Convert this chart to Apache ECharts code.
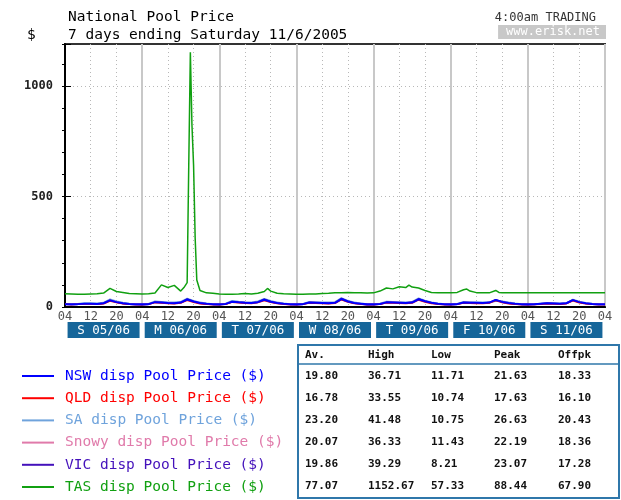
<!DOCTYPE html>
<html>
<head>
<meta charset="utf-8">
<script src="https://cdn.jsdelivr.net/npm/echarts@6/dist/echarts.min.js"></script>
<style>
html, body { margin: 0; padding: 0; background: #fff; }
#poolChart { width: 621px; height: 500px; }
</style>
</head>
<body>
<div id="poolChart"></div>
<script>
// day boxes under the axis, and the hour labels that repeat every day
var dayLabels = ['S 05/06', 'M 06/06', 'T 07/06', 'W 08/06', 'T 09/06', 'F 10/06', 'S 11/06'];
var hourLabels = ['04', '12', '20'];

var seriesNames = ['NSW disp Pool Price ($)', 'QLD disp Pool Price ($)', 'SA disp Pool Price ($)',
    'Snowy disp Pool Price ($)', 'VIC disp Pool Price ($)', 'TAS disp Pool Price ($)'];
var seriesColors = ['#0000ff', '#ff0000', '#6fa3dc', '#e07aaa', '#4411bb', '#11a011'];

// 2 hourly readings from Sun 04:00 to Sat 04:00
var nswPrice = [
    13, 12, 13, 15, 15, 14, 17, 30, 22, 17, 14, 13,
    12, 13, 22, 20, 18, 17, 20, 34, 25, 18, 15, 13,
    12, 14, 24, 21, 19, 18, 22, 33, 24, 18, 15, 13,
    12, 13, 20, 19, 18, 17, 19, 36, 25, 18, 15, 12,
    12, 14, 21, 20, 19, 18, 20, 35, 26, 19, 15, 13,
    12, 13, 20, 19, 19, 18, 20, 32, 23, 18, 15, 13,
    12, 12, 15, 17, 16, 15, 17, 31, 22, 17, 14, 13,
    12];
var qldPrice = [
    12, 11, 12, 14, 14, 13, 15, 27, 20, 15, 12, 11,
    11, 12, 20, 18, 16, 15, 18, 30, 21, 15, 13, 11,
    11, 12, 22, 19, 17, 16, 20, 29, 21, 16, 13, 11,
    11, 12, 18, 17, 16, 15, 17, 33, 22, 16, 13, 11,
    11, 12, 19, 18, 17, 16, 18, 32, 23, 16, 13, 11,
    11, 12, 18, 17, 16, 16, 18, 29, 20, 15, 13, 11,
    11, 11, 13, 15, 14, 13, 15, 28, 19, 15, 12, 11,
    11];
var saPrice = [
    14, 13, 15, 18, 18, 17, 20, 35, 26, 20, 16, 14,
    13, 15, 26, 24, 22, 21, 24, 39, 28, 21, 17, 14,
    13, 16, 28, 25, 23, 22, 26, 38, 28, 21, 17, 14,
    13, 15, 24, 23, 22, 21, 23, 41, 29, 21, 17, 14,
    13, 16, 25, 24, 23, 22, 24, 40, 30, 22, 17, 14,
    13, 15, 24, 23, 22, 21, 22, 26, 26, 21, 17, 14,
    13, 13, 16, 19, 18, 17, 19, 34, 25, 19, 16, 14,
    13];
var snowyPrice = [
    13, 12, 14, 15, 15, 14, 17, 31, 22, 17, 14, 13,
    12, 13, 22, 20, 19, 18, 20, 34, 25, 18, 15, 13,
    12, 14, 24, 21, 20, 19, 22, 33, 25, 18, 15, 13,
    12, 13, 21, 20, 19, 18, 20, 36, 26, 18, 15, 13,
    12, 14, 22, 21, 20, 19, 21, 35, 26, 19, 15, 13,
    12, 13, 21, 20, 19, 18, 20, 32, 24, 18, 15, 13,
    12, 12, 15, 17, 16, 15, 17, 31, 23, 17, 14, 13,
    12];
var vicPrice = [
    12, 10, 12, 15, 15, 14, 17, 31, 22, 16, 12, 10,
    9, 12, 22, 20, 18, 17, 20, 36, 25, 17, 13, 10,
    9, 13, 24, 21, 19, 18, 22, 35, 24, 17, 13, 10,
    9, 12, 20, 19, 18, 17, 19, 39, 26, 17, 13, 9,
    9, 13, 21, 20, 19, 18, 21, 37, 26, 18, 13, 10,
    9, 12, 20, 19, 19, 18, 20, 33, 23, 17, 13, 10,
    9, 11, 15, 17, 16, 15, 17, 32, 22, 16, 12, 10,
    10];
// TAS as [hours since Sun 04:00, price], finer around the Monday spike
var tasPrice = [
    [0, 60], [2, 59], [4, 58], [6, 58], [8, 59], [10, 60], [12, 63], [14, 84], [16, 70], [18, 66], [20, 61], [22, 60],
    [24, 59], [26, 60], [28, 63], [30, 100], [32, 88], [34, 98], [36, 72], [37, 88], [38, 110], [38.5, 641],
    [39, 1152.67], [39.5, 822], [40, 641], [40.5, 311], [41, 122], [42, 75], [44, 64], [46, 62],
    [48, 59], [50, 58], [52, 58], [54, 59], [56, 61], [58, 59], [60, 62], [62, 70], [63, 84], [64, 72], [66, 62], [68, 60], [70, 59],
    [72, 58], [74, 58], [76, 59], [78, 59], [80, 61], [82, 62], [84, 64], [86, 65], [88, 66], [90, 65], [92, 65], [94, 63],
    [96, 64], [98, 72], [100, 86], [102, 82], [104, 92], [106, 88], [107, 99], [108, 90], [110, 86], [112, 75], [114, 66], [116, 64], [118, 65],
    [120, 64], [122, 66], [124, 78], [125, 81], [126, 72], [128, 65], [130, 64], [132, 64], [134, 75], [135, 66], [136, 64], [138, 65], [140, 65], [142, 65],
    [144, 65], [146, 65], [148, 65], [150, 65], [152, 65], [154, 65], [156, 65], [158, 65], [160, 65], [162, 65], [164, 65], [166, 65],
    [168, 65]];

// stats table on the right
var statHeader = ['Av.', 'High', 'Low', 'Peak', 'Offpk'];
var statRows = [
    ['19.80', '36.71', '11.71', '21.63', '18.33'],
    ['16.78', '33.55', '10.74', '17.63', '16.10'],
    ['23.20', '41.48', '10.75', '26.63', '20.43'],
    ['20.07', '36.33', '11.43', '22.19', '18.36'],
    ['19.86', '39.29', '8.21', '23.07', '17.28'],
    ['77.07', '1152.67', '57.33', '88.44', '67.90']
];

var mono = 'DejaVu Sans Mono';
var poolChart = echarts.init(document.getElementById('poolChart'));

function toPairs(arr) {
    return arr.map(function (v, i) { return [i * 2, v]; });
}
var lowSeries = [nswPrice, qldPrice, saPrice, snowyPrice, vicPrice];
var zOrder = [6, 5, 2, 3, 4, 7];

var series = seriesNames.map(function (name, i) {
    return {
        name: name,
        type: 'line',
        xAxisIndex: 0,
        yAxisIndex: 0,
        symbol: 'none',
        z: zOrder[i],
        lineStyle: { color: seriesColors[i], width: i === 0 ? 2 : 1.5 },
        itemStyle: { color: seriesColors[i] },
        data: i < 5 ? toPairs(lowSeries[i]) : tasPrice
    };
});

// table built as graphic texts
var tableX = [305, 368, 431, 494, 558];
var rowY = [376, 398, 420, 442, 464, 486];
var tableKids = [
    { type: 'rect', shape: { x: 298, y: 345, width: 321, height: 153 },
      style: { fill: '#fff', stroke: '#2f77aa', lineWidth: 2 } },
    { type: 'line', shape: { x1: 298, y1: 364, x2: 619, y2: 364 },
      style: { stroke: '#2f77aa', lineWidth: 1.5 } }
];
statHeader.forEach(function (h, c) {
    tableKids.push({ type: 'text', x: tableX[c], y: 355,
        style: { text: h, font: 'bold 11px ' + mono, fill: '#111', verticalAlign: 'middle' } });
});
statRows.forEach(function (row, r) {
    row.forEach(function (cell, c) {
        tableKids.push({ type: 'text', x: tableX[c], y: rowY[r],
            style: { text: cell, font: 'bold 11px ' + mono, fill: '#111', verticalAlign: 'middle' } });
    });
});

var option = {
    backgroundColor: '#fff',
    animation: false,
    title: [
        { text: 'National Pool Price', left: 63, top: 5, textStyle: { fontFamily: mono, fontSize: 14.5, fontWeight: 'normal', color: '#000' } },
        { text: '7 days ending Saturday 11/6/2005', left: 63, top: 23, textStyle: { fontFamily: mono, fontSize: 14.5, fontWeight: 'normal', color: '#000' } },
        { text: '$', left: 22, top: 23, textStyle: { fontFamily: mono, fontSize: 14.5, fontWeight: 'normal', color: '#000' } },
        { text: '4:00am TRADING', right: 20, top: 7, textStyle: { fontFamily: mono, fontSize: 12, fontWeight: 'normal', color: '#333' } },
        { text: 'www.erisk.net', right: 15, top: 25, backgroundColor: '#c8c8c8', padding: [1, 6, 1, 8],
          textStyle: { fontFamily: mono, fontSize: 12, fontWeight: 'normal', color: '#fff' } }
    ],
    legend: {
        orient: 'vertical',
        left: 22,
        top: 368,
        height: 132,
        padding: 0,
        icon: 'rect',
        itemWidth: 32,
        itemHeight: 2,
        itemGap: 6.2,
        selectedMode: false,
        textStyle: { fontFamily: mono, fontSize: 14.5, lineHeight: 16, padding: [0, 0, 0, 6] },
        data: seriesNames.map(function (n, i) {
            return { name: n, textStyle: { color: seriesColors[i] } };
        })
    },
    grid: {
        left: 65, right: 16, top: 44, bottom: 193,
        show: true, borderColor: '#333', borderWidth: 2
    },
    xAxis: [{
        type: 'value', min: 0, max: 168, interval: 8,
        axisLine: { onZero: false, lineStyle: { color: '#000', width: 2 } },
        axisTick: { show: false },
        axisLabel: {
            margin: 4, fontFamily: mono, fontSize: 12, color: '#555',
            formatter: function (v) { return hourLabels[(v / 8) % 3]; }
        },
        splitLine: { show: true, lineStyle: { color: '#b8b8b8', type: [1, 3] } }
    }, {
        type: 'value', min: 0, max: 168, interval: 24,
        axisLine: { show: false }, axisTick: { show: false }, axisLabel: { show: false },
        splitLine: { show: true, lineStyle: { color: '#c8c8c8', width: 2 } }
    }, {
        type: 'category', data: dayLabels, position: 'bottom',
        axisLine: { show: false }, axisTick: { show: false },
        axisLabel: {
            margin: 15, interval: 0, fontFamily: mono, fontSize: 12.5, color: '#fff',
            backgroundColor: '#16669a', width: 72, align: 'center', lineHeight: 13, padding: [2, 0, 1, 0]
        },
        splitLine: { show: false }
    }],
    yAxis: [{
        type: 'value', min: 0, max: 1190, interval: 100,
        axisLine: { show: true, lineStyle: { color: '#000', width: 2 } },
        axisTick: { show: true, length: 3, lineStyle: { color: '#000' } },
        axisLabel: {
            margin: 12, fontFamily: mono, fontSize: 12, fontWeight: 'bold', color: '#222',
            formatter: function (v) { return v % 500 === 0 ? String(v) : ''; }
        },
        splitLine: { show: true, lineStyle: { color: ['none', 'none', 'none', 'none', 'none', '#b8b8b8', 'none', 'none', 'none', 'none', '#b8b8b8', 'none', 'none'], type: [1, 3] } }
    }, {
        type: 'value', min: 0, max: 1190, interval: 500,
        axisLine: { show: false },
        axisTick: { show: true, length: 6, lineStyle: { color: '#000' } },
        axisLabel: { show: false },
        splitLine: { show: false }
    }],
    series: series,
    graphic: [{ type: 'group', children: tableKids }]
};

poolChart.setOption(option);
</script>
</body>
</html>
